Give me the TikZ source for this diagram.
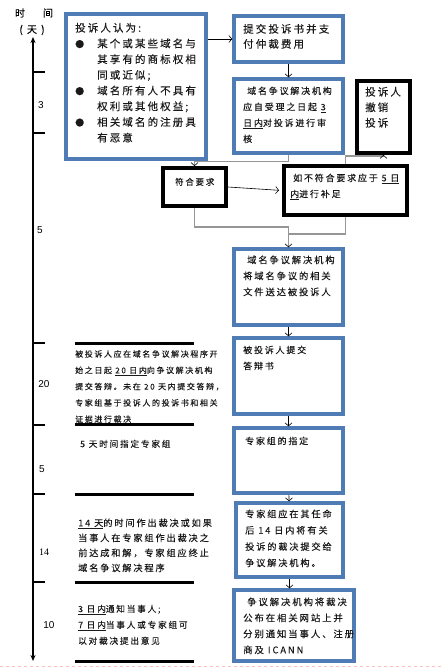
\documentclass[tikz,border=0pt]{standalone}
\usepackage{fontspec}
\setmainfont{Liberation Sans}
\newfontfamily\cjk[LetterSpace=20,FakeBold=0.15]{Noto Sans CJK SC}
\newfontfamily\serifnum{Liberation Serif}
\usepackage{tikz}
\usetikzlibrary{positioning,arrows.meta,calc}
\definecolor{boxblue}{RGB}{80,124,182}
\definecolor{linkgray}{RGB}{150,150,150}

\begin{document}
\begin{tikzpicture}[x=1pt, y=-1pt,
  bluebox/.style={draw=boxblue, line width=3.5pt, inner sep=0pt},
  blackbox/.style={draw=black, line width=4pt, inner sep=0pt},
  txt/.style 2 args={anchor=north west, inner sep=0pt, align=left,
    text=black!90, font=\cjk\fontsize{#1}{#2}\selectfont},
  arr/.style={black, line width=0.6pt, -{Straight Barb[length=3pt,width=7pt]}},
  link/.style={linkgray, line width=1.2pt},
  linkarr/.style={link, -{Straight Barb[length=3pt,width=7pt,color=black,line width=0.6pt]}}]
  \useasboundingbox (0,0) rectangle (443,667);
  % time axis
  \node[font=\cjk\fontsize{10}{12}\selectfont] (hshi) at (20,13) {时};
  \node[font=\cjk\fontsize{10}{12}\selectfont] (hjian) at (48,13) {间};
  \node[font=\cjk\fontsize{10}{12}\selectfont] (htian) at (32,30) {( 天 )};
  \draw[line width=1.6pt, {Stealth[length=6pt,width=5pt]}-{Stealth[length=6pt,width=5pt]}]
    (33,37) -- (33,661);
  \foreach \y in {72,133,343,425,494,582}{
    \draw[line width=2.5pt] (33,\y) -- (45,\y);}
  \foreach \x/\y/\d in {41/105/3, 40/230/5, 44/384/20, 42/469/5, 49/625/10}{
    \node[font=\fontsize{10}{12}\selectfont] (day\y) at (\x,\y) {\d};}
  \node[font=\serifnum\fontsize{10}{12}\selectfont] (day552) at (44,552) {14};
  % left notes
  \foreach \y in {343,424,494,582,661}{
    \draw[line width=3pt] (75,\y) -- (194,\y);}
  \node[txt={8}{16.3}] (note20) at (75,350)
    {被投诉人应在域名争议解决程序开\\
     始之日起 \underline{20 日内}向争议解决机构\\
     提交答辩。未在 20 天内提交答辩，\\
     专家组基于投诉人的投诉书和相关\\
     证据进行裁决};
  \node[txt={8.7}{16}] (note5) at (80,439.6) {5 天时间指定专家组};
  \node[txt={9.2}{15}] (note14) at (78,518.4)
    {\underline{14 天}的时间作出裁决或如果\\
     当事人在专家组作出裁决之\\
     前达成和解，专家组应终止\\
     域名争议解决程序};
  \node[txt={8.7}{16}] (note10) at (78,604.6)
    {\underline{3 日内}通知当事人;\\
     \underline{7 日内}当事人或专家组可\\
     以对裁决提出意见};
  % boxes
  \node[bluebox, minimum width=140pt, minimum height=145pt] (A) at (136,86.5) {};
  \node[bluebox, minimum width=109pt, minimum height=46pt] (B) at (288.5,39) {};
  \node[bluebox, minimum width=109pt, minimum height=74pt] (C) at (288.5,116) {};
  \node[blackbox, minimum width=53pt, minimum height=72pt] (D) at (383.5,117) {};
  \node[blackbox, minimum width=63pt, minimum height=38pt] (E) at (194.5,187) {};
  \node[blackbox, minimum width=123pt, minimum height=49pt] (F) at (345.5,190.5) {};
  \node[bluebox, minimum width=109pt, minimum height=76pt] (G) at (288.5,287) {};
  \node[bluebox, minimum width=109pt, minimum height=76pt] (H) at (288.5,376) {};
  \node[bluebox, minimum width=109pt, minimum height=65pt] (I) at (288.5,460.5) {};
  \node[bluebox, minimum width=107pt, minimum height=74pt] (J) at (289.5,540) {};
  \node[bluebox, minimum width=120pt, minimum height=71pt] (K) at (294,625.5) {};
  % box texts
  \node[txt={10.5}{15.7}] (Atext) at (75,22.75)
    {投诉人认为:\\
     \makebox[22pt][l]{\fontsize{9}{9}\selectfont●}某个或某些域名与\\
     \hspace*{22pt}其享有的商标权相\\
     \hspace*{22pt}同或近似;\\
     \makebox[22pt][l]{\fontsize{9}{9}\selectfont●}域名所有人不具有\\
     \hspace*{22pt}权利或其他权益;\\
     \makebox[22pt][l]{\fontsize{9}{9}\selectfont●}相关域名的注册具\\
     \hspace*{22pt}有恶意};
  \node[txt={10.5}{15}] (Btext) at (243,23.75) {提交投诉书并支\\付仲裁费用};
  \node[txt={9}{16}] (Ctext) at (243,86.5)
    {\hspace*{4pt}域名争议解决机构\\
     应自受理之日起 \underline{3}\\
     \underline{日内}对投诉进行审\\
     核};
  \node[txt={10.5}{15.5}] (Dtext) at (365,86.75) {投诉人\\撤销\\投诉};
  \node[txt={8.5}{16}] (Etext) at (175,177.75) {符合要求};
  \node[txt={9}{16}] (Ftext) at (290,173.5)
    {\hspace*{3pt}如不符合要求应于 \underline{5 日}\\
     \underline{内}进行补足};
  \node[txt={9.3}{16}] (Gtext) at (243,255.4)
    {\hspace*{4pt}域名争议解决机构\\
     将域名争议的相关\\
     文件送达被投诉人};
  \node[txt={9}{16}] (Htext) at (243,345.5) {被投诉人提交\\答辩书};
  \node[txt={9}{16}] (Itext) at (245,436.5) {专家组的指定};
  \node[txt={9.2}{16.3}] (Jtext) at (245,509.4)
    {专家组应在其任命\\
     后 14 日内将有关\\
     投诉的裁决提交给\\
     争议解决机构。};
  \node[txt={9.4}{16}] (Ktext) at (243,597.3)
    {\hspace*{4pt}争议解决机构将裁决\\
     公布在相关网站上并\\
     分别通知当事人、注册\\
     商及 ICANN};
  % connectors
  \draw[arr] (A.east |- B.west) -- (B.west);
  \draw[arr] (B) -- (C);
  \draw[linkarr] (C.south) -- ++(0,7) -| (E.north);
  \draw[linkarr] (F.north) -- ++(0,-8) -| (D.south);
  \draw[arr, shorten >=3pt] (E.east) -- (F.west);
  \coordinate (join) at (288.5,227);
  \draw[link] (E.south) |- (join);
  \draw[link] (F.south) -- ++(0,17) -| (join);
  \draw[linkarr] (join) -- (G.north);
  \draw[arr] (G) -- (H);
  \draw[arr] (H) -- (I);
  \draw[arr] (I) -- (J);
  \draw[arr] (J.south) -- (J.south |- K.north);
  % page edge
  \draw[dashed, red!25, line width=0.8pt] (0,666) -- (443,666);
\end{tikzpicture}
\end{document}
